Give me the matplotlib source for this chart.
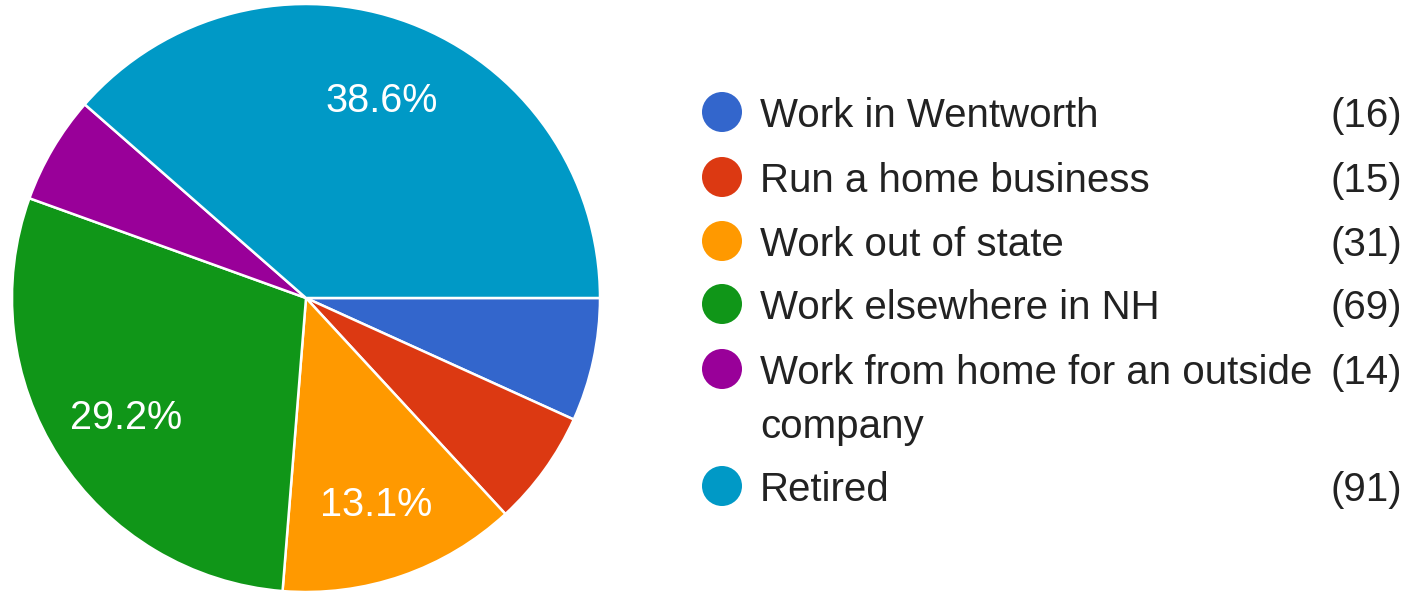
import matplotlib

matplotlib.use("Agg")
import matplotlib.pyplot as plt

plt.rcParams["font.family"] = ["Liberation Sans", "DejaVu Sans"]

labels = [
    "Work in Wentworth",
    "Run a home business",
    "Work out of state",
    "Work elsewhere in NH",
    "Work from home for an outside\ncompany",
    "Retired",
]
counts = [16, 15, 31, 69, 14, 91]
colors = ["#3366cc", "#dc3912", "#ff9900", "#109618", "#990099", "#0099c6"]

W, H = 1408, 593
fig = plt.figure(figsize=(W / 100, H / 100), dpi=100)

# pie, placed in pixel terms: centre (306, 298), radius 294
cx, cy, r = 306, 298, 294
ax = fig.add_axes([(cx - r) / W, (H - cy - r) / H, 2 * r / W, 2 * r / H])
_, _, pct_texts = ax.pie(
    counts,
    colors=colors,
    startangle=0,
    counterclock=False,
    autopct=lambda p: f"{p:.1f}%" if p >= 10 else "",
    pctdistance=0.73,
    wedgeprops=dict(edgecolor="white", linewidth=1.8),
    textprops=dict(color="white", fontsize=28.5),
)
for t in pct_texts:
    t.set_va("center_baseline")
ax.set_xlim(-1, 1)
ax.set_ylim(-1, 1)
ax.set_aspect("equal")
ax.axis("off")

# legend drawn by hand on a full-figure overlay in pixel coordinates
lg = fig.add_axes([0, 0, 1, 1], facecolor="none")
lg.set_xlim(0, W)
lg.set_ylim(H, 0)
lg.axis("off")

row_y = [112, 177, 241, 304, 369, 486]
wrap_gap = 54
for y, lab, n, c in zip(row_y, labels, counts, colors):
    lg.scatter([722], [y], s=830, color=c, edgecolors="none")
    for i, line in enumerate(lab.split("\n")):
        lg.text(760, y + i * wrap_gap, line, fontsize=29, color="#222222",
                va="center_baseline", ha="left")
    lg.text(1402, y, f"({n})", fontsize=29, color="#222222",
            va="center_baseline", ha="right")

fig.savefig("out.png", dpi=100, facecolor="white")
